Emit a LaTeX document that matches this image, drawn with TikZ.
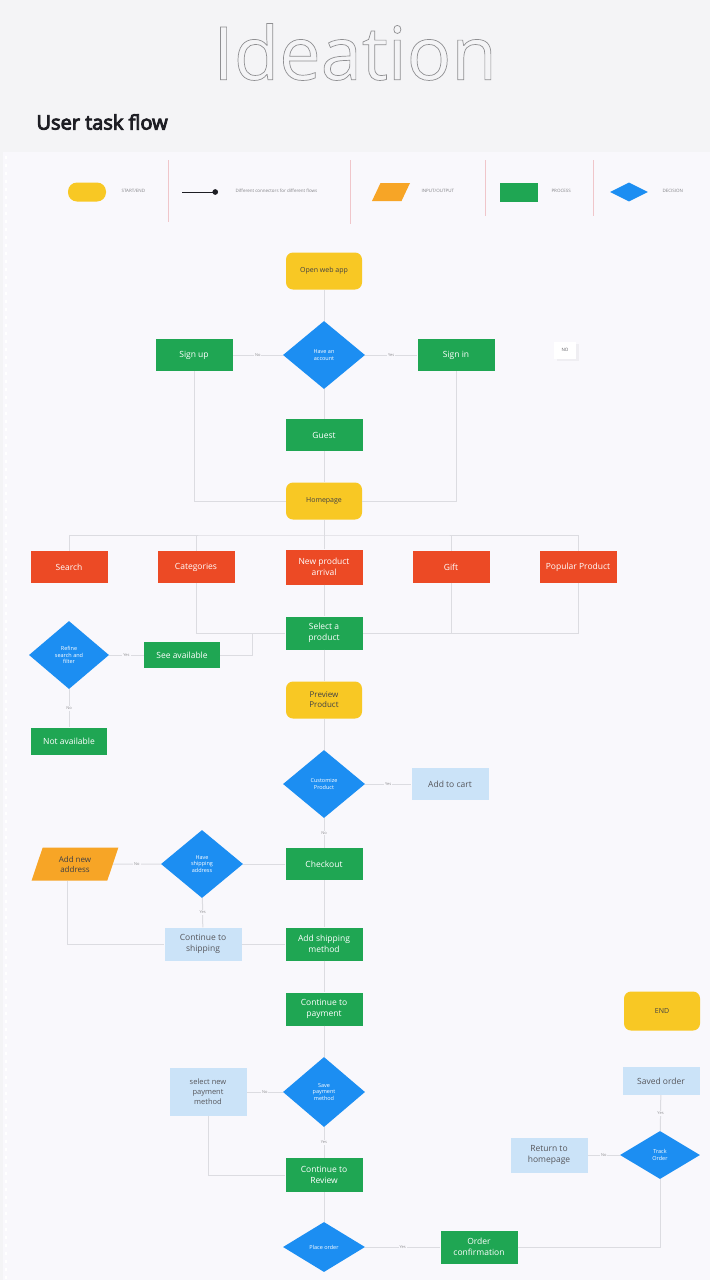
\documentclass[tikz,border=0pt]{standalone}
\usepackage{fontspec}
\setmainfont{Open Sans}
\usepackage{xcolor}
\usepackage{tikz}
\usetikzlibrary{shapes,arrows,shadows}
\definecolor{pagebg}{HTML}{F4F4F6}
\definecolor{panelbg}{HTML}{F9F8FC}
\definecolor{yel}{HTML}{F8C824}
\definecolor{grn}{HTML}{1FA653}
\definecolor{rd}{HTML}{EC4A25}
\definecolor{blu}{HTML}{1C8EF2}
\definecolor{lblu}{HTML}{CBE3F8}
\definecolor{org}{HTML}{F7A526}
\definecolor{wire}{HTML}{DCDCE1}
\definecolor{sep}{HTML}{F0C6CA}
\definecolor{ink}{HTML}{1E1E24}
\tikzstyle{term} = [rectangle, rounded corners=7pt, fill=yel, text=ink!85, minimum width=76pt, minimum height=37pt, align=center, inner sep=1pt, font=\fontsize{7}{9}\selectfont]
\tikzstyle{proc} = [rectangle, fill=grn, text=white, minimum width=77pt, minimum height=32pt, align=center, inner sep=1pt, font=\fontsize{8.5}{10.5}\selectfont]
\tikzstyle{cat} = [proc, fill=rd]
\tikzstyle{note} = [proc, fill=lblu, text=ink!75, font=\fontsize{8.5}{10.5}\selectfont]
\tikzstyle{dec} = [diamond, fill=blu, text=white, minimum width=82pt, minimum height=68pt, align=center, inner sep=0pt, font=\fontsize{5.5}{6.5}\selectfont]
\tikzstyle{io} = [trapezium, trapezium left angle=72, trapezium right angle=108, trapezium stretches=true, fill=org, text=ink!85, minimum width=87pt, minimum height=33pt, align=center, inner sep=1pt, font=\fontsize{8}{10}\selectfont]
\tikzstyle{lgtxt} = [anchor=west, text=ink!55, font=\fontsize{4.5}{5}\selectfont]
\tikzstyle{lbl} = [fill=panelbg, text=ink!50, inner sep=1pt, font=\fontsize{4}{4}\selectfont]
\tikzstyle{line} = [draw=wire, line width=1pt]

\begin{document}
\begin{tikzpicture}[x=1pt, y=-1pt]
\useasboundingbox (0,0) rectangle (710,1280);
\fill [pagebg] (0,0) rectangle (710,1280);
\fill [panelbg] (3,152) rectangle (710,1280);
\draw [white, line width=2pt, dash pattern=on 3pt off 5pt] (6,156) -- (6,1280);

% heading
\node (title) at (355,52) {\fontsize{74}{80}\selectfont\color{ink!50}\special{pdf:literal direct 1 Tr 0.7 w}Ideation\special{pdf:literal direct 0 Tr}};
\node [anchor=west, text=ink, font=\fontsize{20}{24}\selectfont] (subtitle) at (33,122) {\special{pdf:literal direct 2 Tr 0.9 w}User task flow\special{pdf:literal direct 0 Tr}};

% legend
\node [term, minimum width=38pt, minimum height=19pt, rounded corners=9pt] (lgterm) at (87,192) {};
\node [lgtxt] (lgtermtxt) at (118,191) {START/END};
\draw [sep] (168,160) -- (168,222);
\coordinate (lgfrom) at (182,192);
\coordinate (lgto) at (218,192);
\draw [ink, line width=0.7pt, -*] (lgfrom) -- (lgto);
\node [lgtxt] (lglinetxt) at (232,191) {Different connectors for different flows};
\draw [sep] (350,160) -- (350,224);
\node [io, minimum width=38pt, minimum height=18pt, trapezium left angle=68, trapezium right angle=112] (lgio) at (391,192) {};
\node [lgtxt] (lgiotxt) at (418,191) {INPUT/OUTPUT};
\draw [sep] (485,160) -- (485,216);
\node [proc, minimum width=38pt, minimum height=19pt] (lgproc) at (519,192) {};
\node [lgtxt] (lgproctxt) at (548,191) {PROCESS};
\draw [sep] (593,160) -- (593,216);
\node [dec, minimum width=38pt, minimum height=19pt] (lgdec) at (629,192) {};
\node [lgtxt] (lgdectxt) at (659,191) {DECISION};

% entry
\node [term] (open) at (324,271) {Open web app};
\node [dec] (account) at (324,355) {Have an\\account};
\node [proc] (signup) at (194,355) {Sign up};
\node [proc] (signin) at (456,355) {Sign in};
\node [fill=white, text=ink!70, minimum width=22pt, minimum height=17pt, inner sep=1pt, font=\fontsize{4.5}{5}\selectfont, drop shadow={opacity=0.08}] (no) at (565,350) {NO};
\node [proc] (guest) at (324,435) {Guest};
\node [term] (home) at (324,501) {Homepage};
\path [line] (open) -- (account);
\path [line] (account) -- node [lbl] {No} (signup);
\path [line] (account) -- node [lbl] {Yes} (signin);
\path [line] (account) -- (guest);
\path [line] (guest) -- (home);
\path [line] (signup) |- (home);
\path [line] (signin) |- (home);

% browse
\node [cat] (search) at (69,567) {Search};
\node [cat] (categ) at (196,567) {Categories};
\node [cat, minimum height=35pt] (newarr) at (324,567) {New product\\arrival};
\node [cat] (gift) at (451,567) {Gift};
\node [cat] (popular) at (578,567) {Popular Product};
\coordinate (topbar) at (324,535);
\path [line] (home) -- (newarr);
\path [line] (search) |- (topbar) -| (popular);
\path [line] (categ) -- (categ |- topbar);
\path [line] (gift) -- (gift |- topbar);

\node [proc, minimum height=33pt] (select) at (324,633) {Select a\\product};
\node [proc, minimum width=76pt, minimum height=26pt] (seeav) at (182,655) {See available};
\node [dec, minimum width=80pt] (refine) at (69,655) {Refine\\search and\\filter};
\node [proc, minimum width=76pt, minimum height=27pt] (notav) at (69,741) {Not available};
\coordinate (fork) at (252,633);
\path [line] (newarr) -- (select);
\path [line] (categ) |- (select);
\path [line] (popular) |- (select);
\path [line] (gift) -- (gift |- select);
\path [line] (seeav) -| (fork);
\path [line] (refine) -- node [lbl] {Yes} (seeav);
\path [line] (refine) -- node [lbl] {No} (notav);

% product
\node [term, font=\fontsize{8}{10}\selectfont] (preview) at (324,700) {Preview\\Product};
\node [dec] (custom) at (324,784) {Customize\\Product};
\node [note] (cart) at (450,784) {Add to cart};
\node [proc] (checkout) at (324,864) {Checkout};
\path [line] (select) -- (preview);
\path [line] (preview) -- (custom);
\path [line] (custom) -- node [lbl] {Yes} (cart);
\path [line] (custom) -- node [lbl] {No} (checkout);

% shipping
\node [dec] (shipaddr) at (202,864) {Have\\shipping\\address};
\node [io] (newaddr) at (75,864) {Add new\\address};
\node [note, minimum height=33pt] (contship) at (203,944) {Continue to\\shipping};
\node [proc, minimum height=33pt] (addship) at (324,944) {Add shipping\\method};
\node [proc, minimum height=33pt] (contpay) at (324,1009) {Continue to\\payment};
\path [line] (checkout) -- (shipaddr);
\path [line] (shipaddr) -- node [lbl] {No} (newaddr);
\path [line] (shipaddr) -- node [lbl] {Yes} (contship);
\path [line] ([xshift=-8pt]newaddr.south) |- (contship);
\path [line] (contship) -- (addship);
\path [line] (checkout) -- (addship);
\path [line] (addship) -- (contpay);

% payment
\node [dec, minimum height=70pt] (savepay) at (324,1092) {Save\\payment\\method};
\node [note, minimum height=48pt, font=\fontsize{7.5}{10}\selectfont] (newpay) at (208,1092) {select new\\payment\\method};
\node [proc, minimum height=34pt] (contrev) at (324,1175) {Continue to\\Review};
\node [dec, minimum height=50pt] (place) at (324,1247) {Place order};
\node [proc, minimum height=33pt] (confirm) at (479,1247) {Order\\confirmation};
\path [line] (contpay) -- (savepay);
\path [line] (savepay) -- node [lbl] {No} (newpay);
\path [line] (savepay) -- node [lbl] {Yes} (contrev);
\path [line] (newpay) |- (contrev);
\path [line] (contrev) -- (place);
\path [line] (place) -- node [lbl] {Yes} (confirm);

% after order
\node [dec, minimum width=80pt, minimum height=48pt] (track) at (660,1155) {Track\\Order};
\node [note, minimum height=35pt] (return) at (549,1155) {Return to\\homepage};
\node [note, minimum height=28pt] (saved) at (661,1081) {Saved order};
\node [term, minimum height=39pt] (end) at (662,1011) {END};
\path [line] (confirm) -| (track);
\path [line] (track) -- node [lbl] {No} (return);
\path [line] (track) -- node [lbl] {Yes} (saved);
\end{tikzpicture}
\end{document}
